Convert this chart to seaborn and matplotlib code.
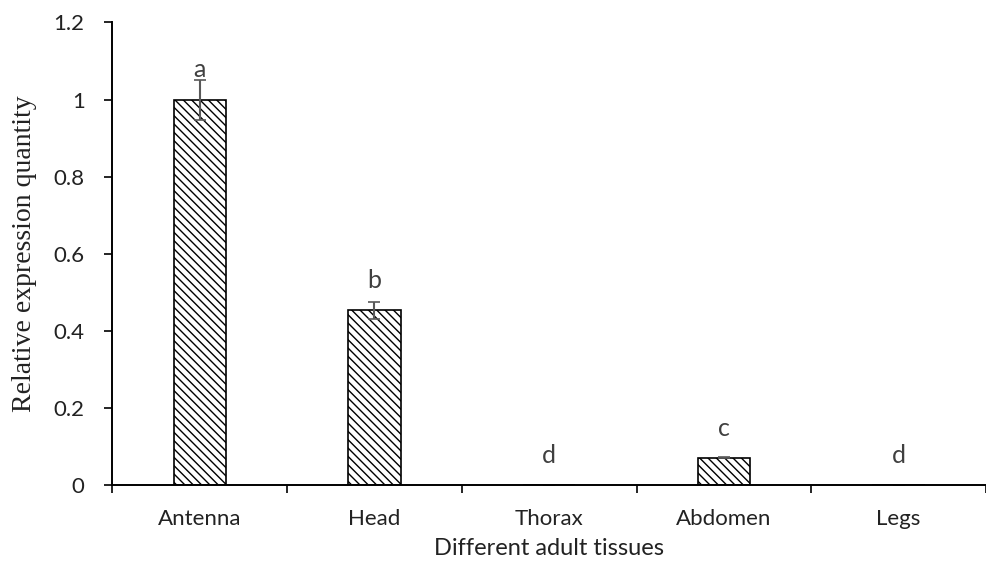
import numpy as np
import pandas as pd
import matplotlib
matplotlib.use("Agg")
import matplotlib.pyplot as plt
import seaborn as sns

tissues = ["Antenna", "Head", "Thorax", "Abdomen", "Legs"]
expression = [1.0, 0.453, 0.0, 0.071, 0.0]
errors = [0.052, 0.022, 0.0, 0.002, 0.0]
letters = ["a", "b", "d", "c", "d"]

df = pd.DataFrame({"tissue": tissues, "value": expression})

sns.set_style("white")
plt.rcParams["hatch.linewidth"] = 1.0
sans = ["Lato", "DejaVu Sans"]

fig = plt.figure(figsize=(9.86, 5.62), dpi=100)
ax = fig.add_axes([0.114, 0.137, 0.886, 0.823])

sns.barplot(data=df, x="tissue", y="value", color="white", width=0.3,
            edgecolor="black", linewidth=1.2, ax=ax)
for p in ax.patches:
    p.set_hatch("\\\\\\\\")

xs = np.arange(len(tissues))
ax.errorbar(xs, expression, yerr=errors, fmt="none", ecolor="#595959",
            elinewidth=1.5, capsize=4, capthick=1.2)

# letters sit at a fixed offset above the bar value (Excel data labels)
for x, v, lab in zip(xs, expression, letters):
    ax.text(x, v + 0.047, lab, ha="center", va="bottom",
            fontsize=18, color="#404040", family=sans)

ax.set_xlim(-0.5, 4.5)
ax.set_ylim(0, 1.2)
ax.set_yticks([0, 0.2, 0.4, 0.6, 0.8, 1.0, 1.2])
ax.set_yticklabels(["0", "0.2", "0.4", "0.6", "0.8", "1", "1.2"])
ax.set_xticks(xs)
ax.set_xticks(np.arange(-0.5, 5.0, 1.0), minor=True)
ax.tick_params(axis="x", which="major", length=0, pad=17)
ax.tick_params(axis="x", which="minor", direction="out", length=6,
               width=1.2, color="black", bottom=True)
ax.tick_params(axis="y", direction="out", length=6, width=1.2,
               color="black", left=True, pad=14)
for lab in ax.get_xticklabels() + ax.get_yticklabels():
    lab.set_family(sans)
    lab.set_fontsize(16)
    lab.set_color("#222222")

ax.set_xlabel("Different adult tissues", fontsize=17, family=sans,
              color="#222222", labelpad=7)
ax.set_ylabel("Relative expression quantity", fontsize=20,
              family=["Liberation Serif", "DejaVu Serif"], color="#222222",
              labelpad=12)

for side in ["top", "right"]:
    ax.spines[side].set_visible(False)
for side in ["left", "bottom"]:
    ax.spines[side].set_color("black")
    ax.spines[side].set_linewidth(1.4)

fig.savefig("out.png", dpi=100)
